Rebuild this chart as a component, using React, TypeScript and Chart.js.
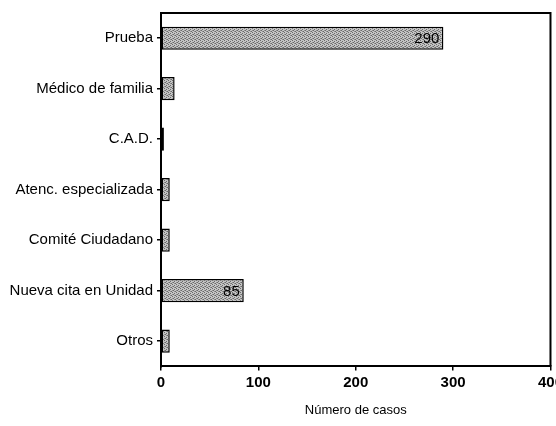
import React, { useEffect, useRef } from "react";
import { Chart, registerables } from "chart.js";

Chart.register(...registerables);

const categories = [
  "Prueba",
  "Médico de familia",
  "C.A.D.",
  "Atenc. especializada",
  "Comité Ciudadano",
  "Nueva cita en Unidad",
  "Otros",
];
const casos = [290, 14, 3, 9, 9, 85, 9];
const shownLabels = ["290", "", "", "", "", "85", ""];
const xTicks = [0, 100, 200, 300, 400];

function makePattern(): CanvasPattern | string {
  const c = document.createElement("canvas");
  c.width = 4;
  c.height = 4;
  const ctx = c.getContext("2d");
  if (!ctx) return "#aaa";
  ctx.fillStyle = "#c4c4c4";
  ctx.fillRect(0, 0, 4, 4);
  ctx.fillStyle = "#6a6a6a";
  ctx.fillRect(0, 0, 1, 1);
  ctx.fillRect(2, 1, 1, 1);
  ctx.fillRect(1, 2, 1, 1);
  ctx.fillRect(3, 3, 1, 1);
  ctx.fillStyle = "#8e8e8e";
  ctx.fillRect(2, 3, 1, 1);
  ctx.fillRect(0, 2, 1, 1);
  const p = ctx.createPattern(c, "repeat");
  return p || "#aaa";
}

const framePlugin = {
  id: "frame",
  afterDraw(chart: any) {
    const { ctx, chartArea } = chart;
    ctx.save();
    ctx.strokeStyle = "#000";
    ctx.lineWidth = 2;
    ctx.beginPath();
    ctx.moveTo(chartArea.left, chartArea.top);
    ctx.lineTo(chartArea.right, chartArea.top);
    ctx.lineTo(chartArea.right, chartArea.bottom);
    ctx.stroke();
    ctx.restore();
  },
};

const valueLabelPlugin = {
  id: "valueLabels",
  afterDatasetsDraw(chart: any) {
    const { ctx } = chart;
    const meta = chart.getDatasetMeta(0);
    ctx.save();
    ctx.font = "15px 'Liberation Sans', Arial, sans-serif";
    ctx.fillStyle = "#000";
    ctx.textAlign = "right";
    ctx.textBaseline = "middle";
    meta.data.forEach((bar: any, i: number) => {
      const t = shownLabels[i];
      if (!t) return;
      ctx.fillText(t, bar.x - 4, bar.y + 1);
    });
    ctx.restore();
  },
};

export default function App() {
  const ref = useRef<HTMLCanvasElement | null>(null);
  useEffect(() => {
    document.body.style.margin = "0";
    document.body.style.overflow = "hidden";
    if (!ref.current) return;
    const chart = new Chart(ref.current, {
      type: "bar",
      data: {
        labels: categories,
        datasets: [
          {
            data: casos,
            backgroundColor: makePattern() as any,
            borderColor: "#000",
            borderWidth: 1.5,
            borderSkipped: false,
            barPercentage: 0.46,
            categoryPercentage: 1,
          },
        ],
      },
      options: {
        indexAxis: "y",
        animation: false,
        responsive: false,
        maintainAspectRatio: false,
        layout: { padding: { top: 12, right: 0, bottom: 8, left: 0 } },
        plugins: {
          legend: { display: false },
          tooltip: { enabled: false },
        },
        scales: {
          x: {
            min: 0,
            max: 400,
            afterBuildTicks: (scale: any) => {
              scale.ticks = xTicks.map((v) => ({ value: v }));
            },
            grid: {
              drawOnChartArea: false,
              color: "#000",
              tickLength: 4,
              lineWidth: 1.5,
            },
            border: { color: "#000", width: 2 },
            ticks: {
              color: "#000",
              font: { family: "'Liberation Sans', Arial, sans-serif", size: 15, weight: "bold" },
              padding: 3,
              maxRotation: 0,
            },
            title: {
              display: true,
              text: "Número de casos",
              color: "#000",
              font: { family: "'Liberation Sans', Arial, sans-serif", size: 13 },
              padding: { top: 8, bottom: 0 },
            },
          },
          y: {
            afterFit: (scale: any) => {
              scale.width = 161;
            },
            grid: {
              drawOnChartArea: false,
              offset: false,
              color: "#000",
              tickLength: 4,
              lineWidth: 1.5,
            },
            border: { color: "#000", width: 2 },
            ticks: {
              color: "#000",
              font: { family: "'Liberation Sans', Arial, sans-serif", size: 15 },
              padding: 4,
            },
          },
        },
      },
      plugins: [framePlugin, valueLabelPlugin],
    });
    return () => chart.destroy();
  }, []);
  return (
    <div style={{ width: 556, height: 426, overflow: "hidden", background: "#fff" }}>
      <canvas ref={ref} width={566} height={426} style={{ display: "block" }} />
    </div>
  );
}
